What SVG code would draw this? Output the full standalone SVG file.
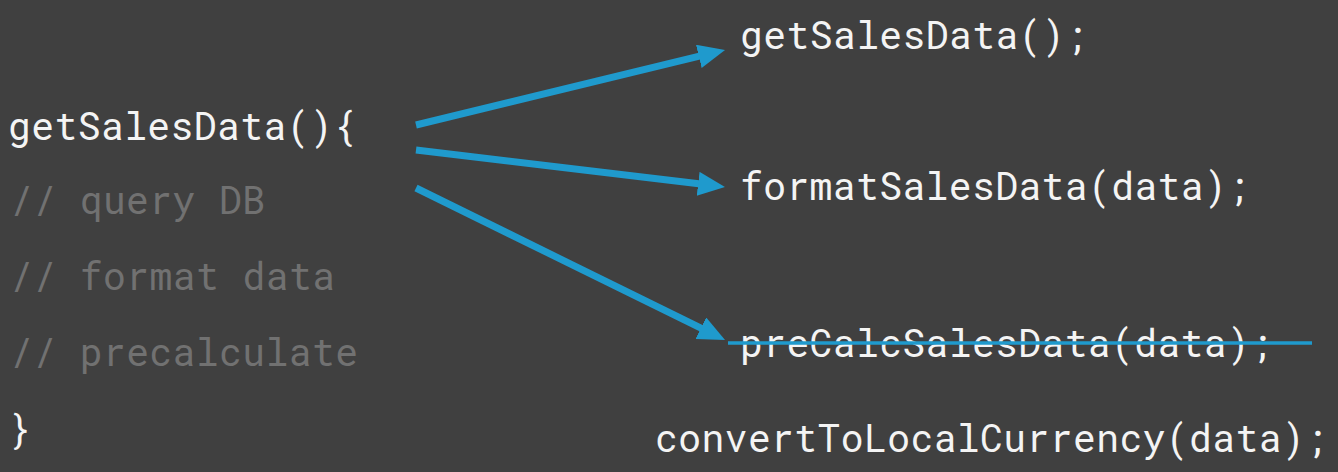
<svg xmlns="http://www.w3.org/2000/svg" width="1338" height="472" viewBox="0 0 1338 472">
  <style>
    .code { font-family: "Roboto Mono", "DejaVu Sans Mono", "Liberation Mono", monospace; font-size: 38px; fill: #f4f4f4; }
    .comment { fill: #717171; }
    .conn { stroke: #1f9acd; stroke-width: 7; fill: none; marker-end: url(#arrow); }
    .strike { stroke: #1f9acd; stroke-width: 3.5; }
  </style>
  <defs>
    <marker id="arrow" markerUnits="userSpaceOnUse" markerWidth="30" markerHeight="26" refX="7" refY="12" orient="auto">
      <path d="M0,0 L27,12 L0,24 z" fill="#1f9acd"/>
    </marker>
  </defs>
  <rect width="1338" height="472" fill="#404040"/>

  <g id="source">
    <text class="code" x="8" y="140" textLength="348" lengthAdjust="spacing">getSalesData(){</text>
    <text class="code comment" x="10" y="214" textLength="255" lengthAdjust="spacing">// query DB</text>
    <text class="code comment" x="10" y="290" textLength="325" lengthAdjust="spacing">// format data</text>
    <text class="code comment" x="10" y="366" textLength="348" lengthAdjust="spacing">// precalculate</text>
    <text class="code" x="8" y="443">}</text>
  </g>

  <g id="getSalesData">
    <text class="code" x="740" y="49" textLength="348" lengthAdjust="spacing">getSalesData();</text>
  </g>
  <g id="formatSalesData">
    <text class="code" x="740" y="200" textLength="510" lengthAdjust="spacing">formatSalesData(data);</text>
  </g>
  <g id="preCalcSalesData">
    <text class="code" x="740" y="357" textLength="533" lengthAdjust="spacing">preCalcSalesData(data);</text>
    <line class="strike" x1="728" y1="343" x2="1312" y2="343"/>
  </g>
  <g id="convertToLocalCurrency">
    <text class="code" x="655" y="452" textLength="673" lengthAdjust="spacing">convertToLocalCurrency(data);</text>
  </g>

  <g id="connectors">
    <line class="conn" x1="416" y1="125" x2="705.6" y2="54.7"/>
    <line class="conn" x1="416" y1="150" x2="705.1" y2="184.6"/>
    <line class="conn" x1="416" y1="188" x2="707.1" y2="331.2"/>
  </g>
</svg>
